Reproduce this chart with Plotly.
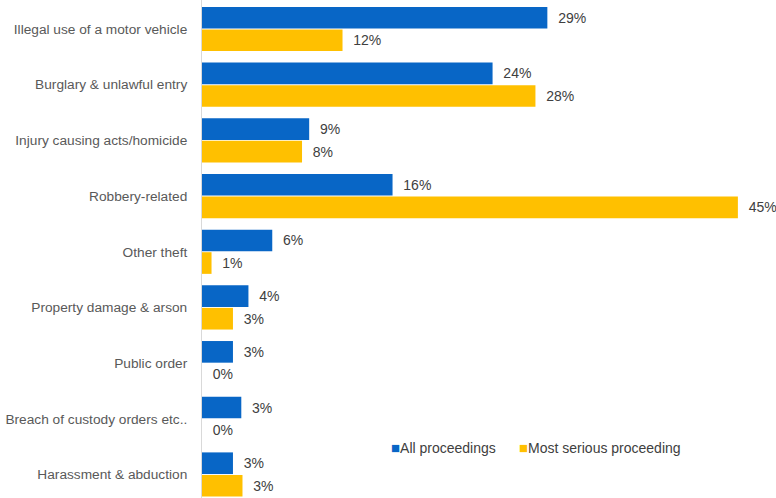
import plotly.graph_objects as go

categories = [
    "Illegal use of a motor vehicle",
    "Burglary & unlawful entry",
    "Injury causing acts/homicide",
    "Robbery-related",
    "Other theft",
    "Property damage & arson",
    "Public order",
    "Breach of custody orders etc..",
    "Harassment & abduction",
]
all_proceedings = [29.0, 24.4, 9.0, 16.0, 5.9, 3.9, 2.6, 3.3, 2.6]
all_labels = ["29%", "24%", "9%", "16%", "6%", "4%", "3%", "3%", "3%"]
most_serious = [11.8, 28.0, 8.4, 45.0, 0.8, 2.6, 0.0, 0.0, 3.4]
most_labels = ["12%", "28%", "8%", "45%", "1%", "3%", "0%", "0%", "3%"]
series_names = ["All proceedings", "Most serious proceeding"]

BLUE = "#0866C6"
YELLOW = "#FFC000"
FONT = "Liberation Sans, Arial, sans-serif"

fig = go.Figure()
for vals, labels, name, color in [
    (all_proceedings, all_labels, series_names[0], BLUE),
    (most_serious, most_labels, series_names[1], YELLOW),
]:
    fig.add_trace(go.Bar(
        y=categories, x=vals, orientation="h", name=name,
        marker=dict(color=color, line=dict(width=0)),
        text=labels, texttemplate="\u00a0\u00a0%{text}", textposition="outside",
        textfont=dict(size=14, color="#404040", family=FONT),
        cliponaxis=False, showlegend=False,
    ))

# legend drawn as text with coloured square glyphs
legend_x = [(389 - 202) / 574, (517 - 202) / 574]
for name, color, lx in zip(series_names, [BLUE, YELLOW], legend_x):
    fig.add_annotation(
        xref="paper", yref="paper", x=lx, y=1 - 447 / 498,
        xanchor="left", yanchor="middle", showarrow=False,
        text=f"<span style='color:{color};font-size:15px'>\u25a0</span>{name}",
        font=dict(size=14, color="#404040", family=FONT),
    )

fig.update_layout(
    width=776, height=498,
    margin=dict(l=202, r=0, t=0, b=0),
    paper_bgcolor="white", plot_bgcolor="white",
    barmode="group", bargap=0.19, bargroupgap=0.04,
    font=dict(family=FONT, size=14, color="#595959"),
    showlegend=False,
)
fig.update_xaxes(range=[0, 48.2], showgrid=False, zeroline=False, showticklabels=False,
                 showline=False)
fig.update_yaxes(categoryorder="array", categoryarray=categories,
                 range=[8.422, -0.521], showgrid=False, zeroline=False,
                 showline=True, linecolor="#d9d9d9", linewidth=1,
                 ticks="", ticklabelstandoff=11,
                 tickfont=dict(size=13.7, color="#595959", family=FONT))

fig.write_html("out.html")
